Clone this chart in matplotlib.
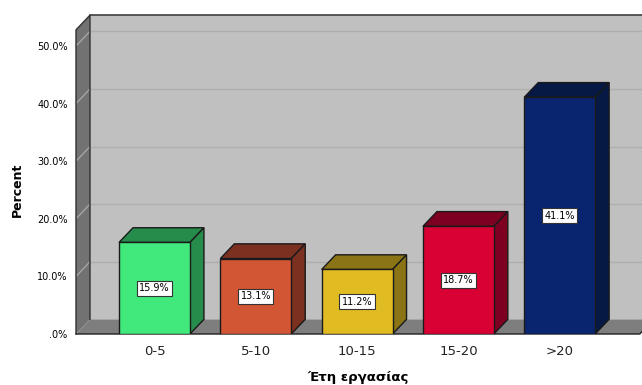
import matplotlib
matplotlib.use("Agg")
import matplotlib.pyplot as plt
from matplotlib.patches import Polygon

# Data
categories = ["0-5", "5-10", "10-15", "15-20", ">20"]
percents = [15.9, 13.1, 11.2, 18.7, 41.1]
front_colors = ["#41e87c", "#d25534", "#e0bc22", "#d90034", "#0a2570"]
shade_colors = ["#258c4c", "#7b3020", "#8a7416", "#7d0020", "#061945"]
y_ticks = [0, 10, 20, 30, 40, 50]
y_tick_labels = [".0%", "10.0%", "20.0%", "30.0%", "40.0%", "50.0%"]

# 3D look parameters (data units)
dx, dy = 0.138, 2.55
bar_w = 0.70
x0, x1 = -0.775, 4.79
wall_top = 52.8

fig = plt.figure(figsize=(6.42, 3.85), dpi=100)
ax = fig.add_axes([76 / 642, 51 / 385, 1 - 76 / 642, 288 / 385])
ax.set_xlim(x0, x0 + (642 - 76) / 101.3)
ax.set_ylim(0, 50)
ax.set_facecolor("none")
for s in ax.spines.values():
    s.set_visible(False)

# Back wall, left wall, floor
ax.add_patch(Polygon([(x0 + dx, dy), (x1 + 1, dy), (x1 + 1, wall_top + dy), (x0 + dx, wall_top + dy)],
                     closed=True, facecolor="#c0c0c0", edgecolor="none", clip_on=False, zorder=0))
ax.add_patch(Polygon([(x0, 0), (x0 + dx, dy), (x0 + dx, wall_top + dy), (x0, wall_top)],
                     closed=True, facecolor="#727272", edgecolor="none", clip_on=False, zorder=1))
ax.add_patch(Polygon([(x0, 0), (x1, 0), (x1 + dx, dy), (x0 + dx, dy)],
                     closed=True, facecolor="#7e7e7e", edgecolor="none", clip_on=False, zorder=1))

# Grid lines on the walls
for v in y_ticks[1:]:
    ax.plot([x0 + dx, x1 + 1], [v + dy, v + dy], color="#aeaeae", lw=1.0, zorder=0.5, clip_on=False)
    ax.plot([x0, x0 + dx], [v, v + dy], color="#a4a4a4", lw=1.0, zorder=1.5, clip_on=False)

# Wall outlines
ax.plot([x0 + dx, x1 + 1], [wall_top + dy, wall_top + dy], color="#404040", lw=1.2, zorder=2, clip_on=False)
ax.plot([x0, x0, x0 + dx, x0 + dx], [0, wall_top, wall_top + dy, dy], color="#303030", lw=1.0, zorder=2, clip_on=False)
ax.plot([x0, x1, x1 + dx], [0, 0, dy], color="#202020", lw=1.0, zorder=2, clip_on=False)

# Bars
xs = list(range(len(categories)))
ax.bar(xs, percents, width=bar_w, color=front_colors, edgecolor="#1a1a1a", linewidth=1.0, zorder=5)
for x, v, sc in zip(xs, percents, shade_colors):
    l, r = x - bar_w / 2, x + bar_w / 2
    ax.add_patch(Polygon([(l, v), (r, v), (r + dx, v + dy), (l + dx, v + dy)], closed=True,
                         facecolor=sc, edgecolor="#1a1a1a", linewidth=1.0, zorder=4))
    ax.add_patch(Polygon([(r, 0), (r + dx, dy), (r + dx, v + dy), (r, v)], closed=True,
                         facecolor=sc, edgecolor="#1a1a1a", linewidth=1.0, zorder=4))
    ax.text(x, v / 2, f"{v:.1f}%", ha="center", va="center", fontsize=7, zorder=6,
            bbox=dict(boxstyle="square,pad=0.25", facecolor="white", edgecolor="#333333", linewidth=0.8))

# Axes labels and ticks
ax.set_yticks(y_ticks)
ax.set_yticklabels(y_tick_labels, fontsize=7)
ax.set_xticks(xs)
ax.set_xticklabels(categories, fontsize=9.5, color="#222222")
ax.tick_params(axis="y", length=0, pad=6)
ax.tick_params(axis="x", length=0, pad=8)

fig.text(17 / 642, 1 - 190 / 385, "Percent", rotation=90, ha="center", va="center",
         fontsize=9, fontweight="bold")
fig.text(358 / 642, 1 - 377 / 385, "Έτη εργασίας", ha="center", va="center",
         fontsize=9.5, fontweight="bold")

fig.savefig("out.png", dpi=100)
